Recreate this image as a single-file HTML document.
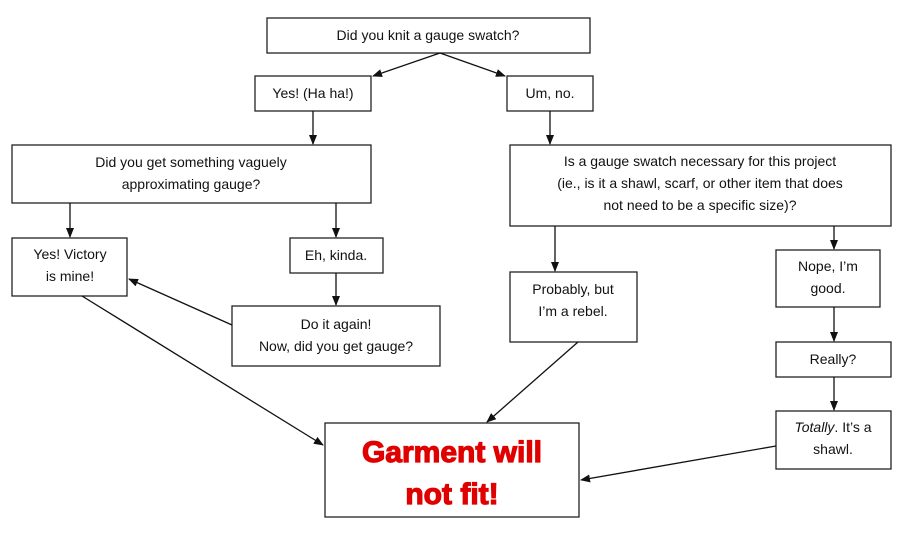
<!DOCTYPE html>
<html><head><meta charset="utf-8"><style>
body{margin:0;background:#fff}
svg{display:block}
text{font-family:"Liberation Sans",sans-serif;font-size:14px;fill:#111;text-anchor:middle}
rect{fill:#fff;stroke:#222;stroke-width:1.3}
line{stroke:#111;stroke-width:1.3}
</style></head><body>
<svg width="912" height="542" viewBox="0 0 912 542" xmlns="http://www.w3.org/2000/svg">
<defs><marker id="a" markerWidth="10" markerHeight="8" refX="9" refY="4" orient="auto" markerUnits="userSpaceOnUse"><path d="M0,0L10,4L0,8z" fill="#111"/></marker></defs>
<rect x="267" y="18" width="323" height="35"/>
<text x="428" y="40">Did you knit a gauge swatch?</text>
<rect x="255" y="76" width="116" height="35"/>
<text x="313" y="98">Yes! (Ha ha!)</text>
<rect x="507" y="76" width="86" height="35"/>
<text x="550" y="98">Um, no.</text>
<rect x="12" y="145" width="359" height="58"/>
<text x="191" y="167">Did you get something vaguely</text>
<text x="191" y="189">approximating gauge?</text>
<rect x="510" y="145" width="381" height="81"/>
<text x="700" y="166">Is a gauge swatch necessary for this project</text>
<text x="700" y="188">(ie., is it a shawl, scarf, or other item that does</text>
<text x="700" y="210">not need to be a specific size)?</text>
<rect x="12" y="238" width="115" height="58"/>
<text x="70" y="259">Yes! Victory</text>
<text x="70" y="281">is mine!</text>
<rect x="290" y="238" width="93" height="35"/>
<text x="336" y="260">Eh, kinda.</text>
<rect x="232" y="306" width="208" height="60"/>
<text x="336" y="329">Do it again!</text>
<text x="336" y="351">Now, did you get gauge?</text>
<rect x="510" y="272" width="127" height="70"/>
<text x="573" y="294">Probably, but</text>
<text x="573" y="316">I’m a rebel.</text>
<rect x="776" y="250" width="104" height="57"/>
<text x="828" y="271">Nope, I’m</text>
<text x="828" y="293">good.</text>
<rect x="776" y="342" width="115" height="35"/>
<text x="833" y="364">Really?</text>
<rect x="776" y="411" width="115" height="58"/>
<text x="833" y="432"><tspan font-style="italic">Totally</tspan>. It’s a</text>
<text x="833" y="454">shawl.</text>
<rect x="325" y="423" width="254" height="94"/>
<text x="452" y="462" style="font-size:30px;font-weight:bold;fill:#e00000;stroke:#e00000;stroke-width:1.2">Garment will</text>
<text x="452" y="504" style="font-size:30px;font-weight:bold;fill:#e00000;stroke:#e00000;stroke-width:1.2">not fit!</text>
<line x1="440" y1="53" x2="373" y2="76" marker-end="url(#a)"/>
<line x1="440" y1="53" x2="505" y2="76" marker-end="url(#a)"/>
<line x1="313" y1="111" x2="313" y2="144" marker-end="url(#a)"/>
<line x1="550" y1="111" x2="550" y2="144" marker-end="url(#a)"/>
<line x1="70" y1="203" x2="70" y2="237" marker-end="url(#a)"/>
<line x1="336" y1="203" x2="336" y2="237" marker-end="url(#a)"/>
<line x1="336" y1="273" x2="336" y2="305" marker-end="url(#a)"/>
<line x1="232" y1="325" x2="129" y2="279" marker-end="url(#a)"/>
<line x1="555" y1="226" x2="555" y2="271" marker-end="url(#a)"/>
<line x1="834" y1="226" x2="834" y2="249" marker-end="url(#a)"/>
<line x1="834" y1="307" x2="834" y2="341" marker-end="url(#a)"/>
<line x1="834" y1="377" x2="834" y2="410" marker-end="url(#a)"/>
<line x1="82" y1="296" x2="323" y2="445" marker-end="url(#a)"/>
<line x1="578" y1="342" x2="487" y2="422" marker-end="url(#a)"/>
<line x1="776" y1="446" x2="581" y2="480" marker-end="url(#a)"/>
</svg>
</body></html>
